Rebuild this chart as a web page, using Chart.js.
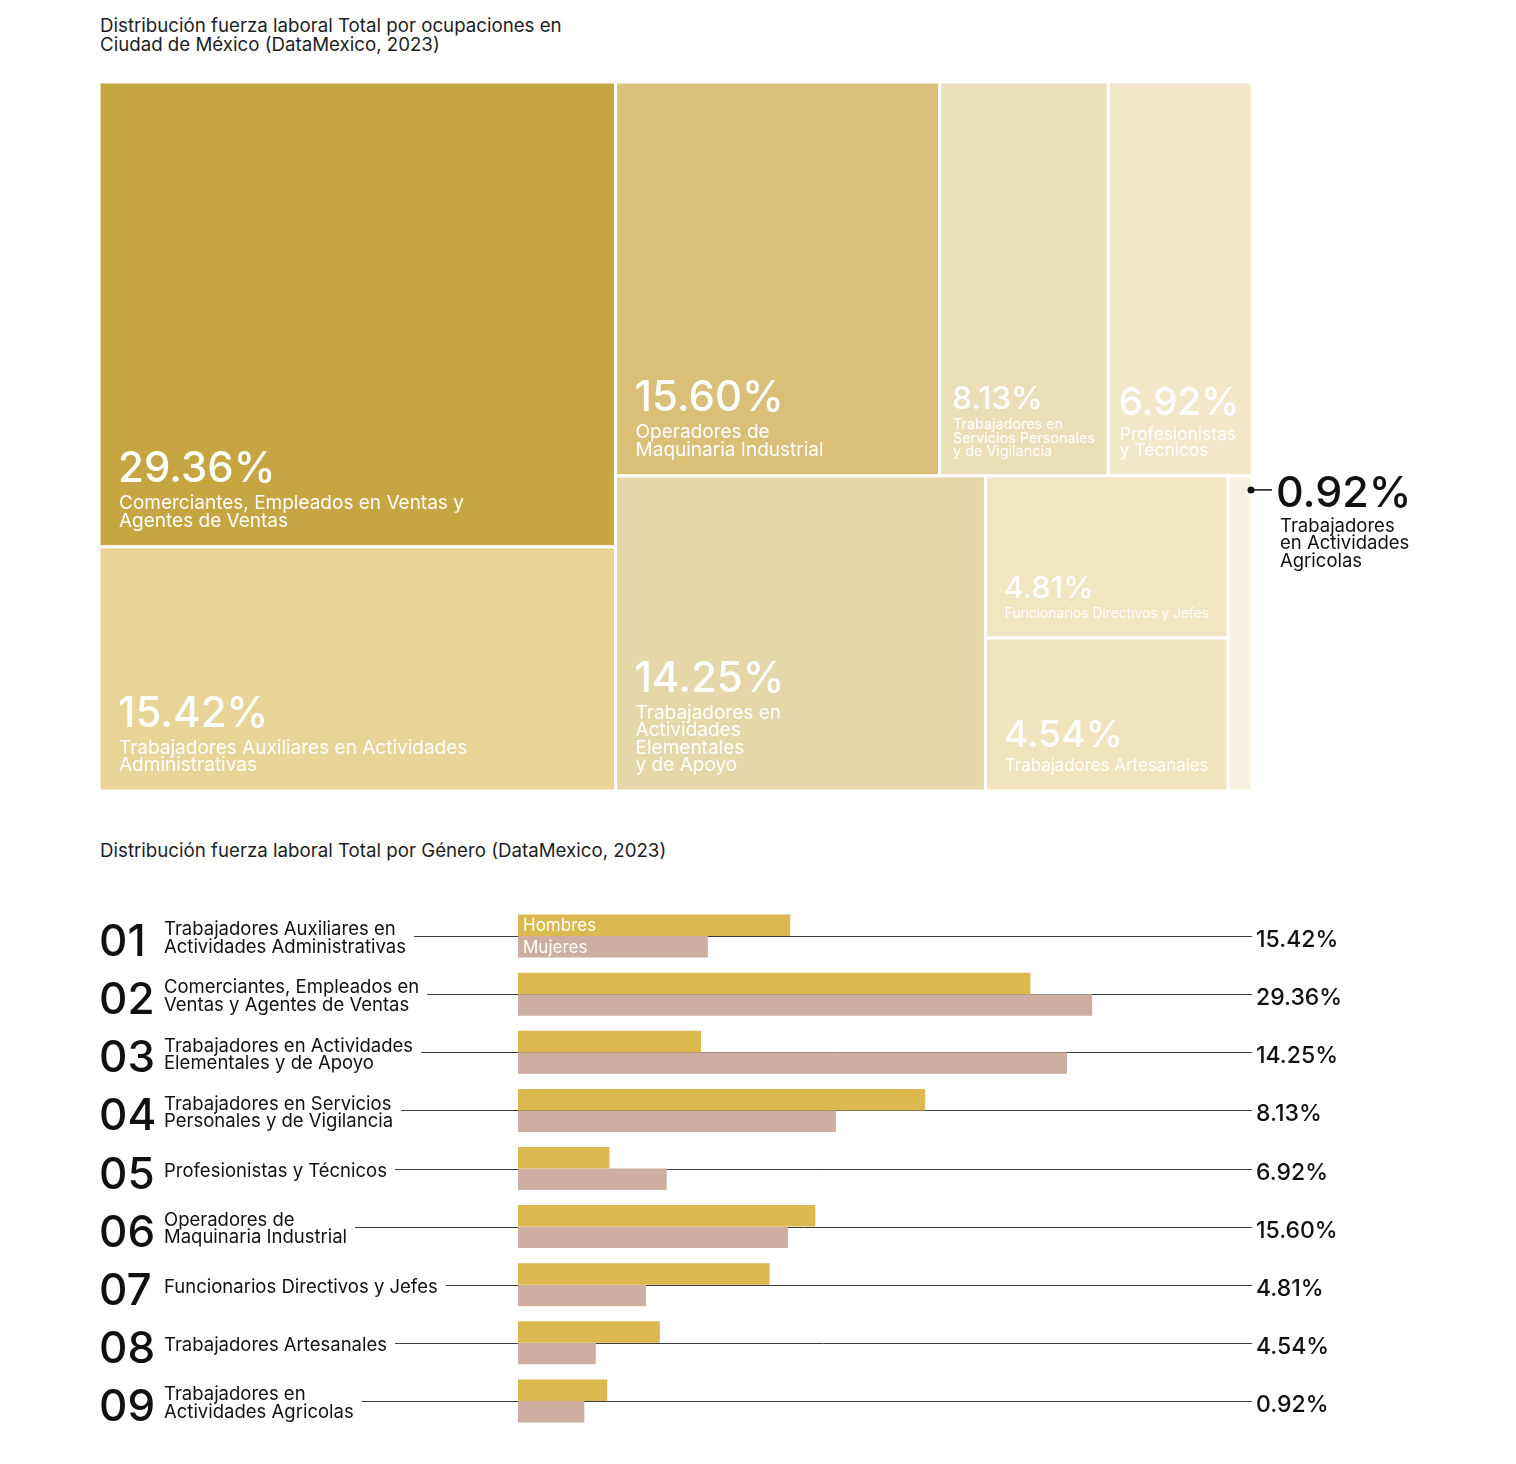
<!DOCTYPE html>
<html><head><meta charset="utf-8">
<script src="https://cdn.jsdelivr.net/npm/chart.js@4.4.0/dist/chart.umd.min.js"></script>
<style>
html,body{margin:0;padding:0;background:#fff;}
body{width:1516px;height:1464px;position:relative;overflow:hidden;font-family:Inter,'Noto Sans',sans-serif;}
.title{position:absolute;left:100px;font-size:18.7px;line-height:19px;color:#1e1e1e;white-space:nowrap;}
#treeWrap{position:absolute;left:0;top:0;width:1516px;height:800px;}
#barWrap{position:absolute;left:0;top:800px;width:1516px;height:664px;}
</style></head><body>
<div class="title" style="top:16px">Distribución fuerza laboral Total por ocupaciones en<br>Ciudad de México (DataMexico, 2023)</div>
<div class="title" style="top:841px">Distribución fuerza laboral Total por Género (DataMexico, 2023)</div>
<div id="treeWrap"><canvas id="tree"></canvas></div>
<div id="barWrap"><canvas id="bars"></canvas></div>
<script>
// ---------- Treemap data ----------
const occupations = [
  'Comerciantes, Empleados en Ventas y Agentes de Ventas',
  'Trabajadores Auxiliares en Actividades Administrativas',
  'Operadores de Maquinaria Industrial',
  'Trabajadores en Actividades Elementales y de Apoyo',
  'Trabajadores en Servicios Personales y de Vigilancia',
  'Profesionistas y Técnicos',
  'Funcionarios Directivos y Jefes',
  'Trabajadores Artesanales',
  'Trabajadores en Actividades Agricolas'
];
const shares = [29.36, 15.42, 15.60, 14.25, 8.13, 6.92, 4.81, 4.54, 0.92];
const cellLines = [
  ['Comerciantes, Empleados en Ventas y', 'Agentes de Ventas'],
  ['Trabajadores Auxiliares en Actividades', 'Administrativas'],
  ['Operadores de', 'Maquinaria Industrial'],
  ['Trabajadores en', 'Actividades', 'Elementales', 'y de Apoyo'],
  ['Trabajadores en', 'Servicios Personales', 'y de Vigilancia'],
  ['Profesionistas', 'y Técnicos'],
  ['Funcionarios Directivos y Jefes'],
  ['Trabajadores Artesanales'],
  ['Trabajadores', 'en Actividades', 'Agricolas']
];
// nesting of the treemap (indices into occupations)
const treeLayout = {dir:'h', children:[
  {dir:'v', children:[0, 1]},
  {dir:'v', children:[
    {dir:'h', children:[2, 4, 5]},
    {dir:'h', children:[3, {dir:'v', children:[6, 7]}, 8]}
  ]}
]};
const cellColors = ['#c6a643','#e9d498','#d9bf78','#e6d7ab','#ecdeb8','#f2e7c9','#f2e5c2','#f1e3bd','#f8f1df'];

// ---------- Gender bar data ----------
const rankLabels = ['01','02','03','04','05','06','07','08','09'];
const genderCategories = [
  ['Trabajadores Auxiliares en', 'Actividades Administrativas'],
  ['Comerciantes, Empleados en', 'Ventas y Agentes de Ventas'],
  ['Trabajadores en Actividades', 'Elementales y de Apoyo'],
  ['Trabajadores en Servicios', 'Personales y de Vigilancia'],
  ['Profesionistas y Técnicos'],
  ['Operadores de', 'Maquinaria Industrial'],
  ['Funcionarios Directivos y Jefes'],
  ['Trabajadores Artesanales'],
  ['Trabajadores en', 'Actividades Agricolas']
];
const totalShares = [15.42, 29.36, 14.25, 8.13, 6.92, 15.60, 4.81, 4.54, 0.92];
const hombres = [11.9, 22.4, 8.0, 17.8, 4.0, 13.0, 11.0, 6.2, 3.9];
const mujeres = [8.3, 25.1, 24.0, 13.9, 6.5, 11.8, 5.6, 3.4, 2.9];
const seriesNames = ['Hombres', 'Mujeres'];

const FONT = 'Inter, "Noto Sans", sans-serif';

// ---------- Treemap layout ----------
function nodeSum(n){ return typeof n === 'number' ? shares[n] : n.children.reduce((s,c)=>s+nodeSum(c),0); }
function layoutNode(n,x0,y0,x1,y1,out){
  if (typeof n === 'number'){ out.push({i:n,x0,y0,x1,y1}); return; }
  const total = nodeSum(n); let acc = 0;
  n.children.forEach(c=>{
    const v = nodeSum(c); const a = acc/total, b = (acc+v)/total; acc += v;
    if (n.dir === 'h') layoutNode(c, x0+(x1-x0)*a, y0, x0+(x1-x0)*b, y1, out);
    else layoutNode(c, x0, y0+(y1-y0)*a, x1, y0+(y1-y0)*b, out);
  });
}

const treemapPlugin = {
  id: 'treemapCells',
  afterDatasetsDraw(chart){
    const ctx = chart.ctx, xs = chart.scales.x, ys = chart.scales.y;
    const cells = []; layoutNode(treeLayout, 0, 0, 100, 100, cells);
    ctx.save();
    const px = cells.map(c=>({i:c.i,
      L: xs.getPixelForValue(c.x0), R: xs.getPixelForValue(c.x1),
      T: ys.getPixelForValue(c.y0), B: ys.getPixelForValue(c.y1)}));
    px.forEach(c=>{
      ctx.fillStyle = cellColors[c.i];
      ctx.fillRect(c.L, c.T, c.R-c.L, c.B-c.T);
      ctx.strokeStyle = '#ffffff'; ctx.lineWidth = 3;
      ctx.strokeRect(c.L, c.T, c.R-c.L, c.B-c.T);
    });
    ctx.textAlign = 'left'; ctx.textBaseline = 'alphabetic';
    px.forEach(c=>{
      const w = c.R-c.L, pct = shares[c.i].toFixed(2)+'%', lines = cellLines[c.i];
      if (w < 60){
        // external annotation
        const dx = c.R - 1, dy = c.T + 14;
        ctx.fillStyle = '#111'; ctx.strokeStyle = '#111'; ctx.lineWidth = 1.5;
        ctx.beginPath(); ctx.arc(dx, dy, 3.5, 0, Math.PI*2); ctx.fill();
        ctx.beginPath(); ctx.moveTo(dx, dy); ctx.lineTo(dx+21, dy); ctx.stroke();
        ctx.font = '500 43px ' + FONT;
        ctx.fillText(pct, dx+25, c.T+31);
        ctx.font = '400 18.5px ' + FONT;
        lines.forEach((t,k)=>ctx.fillText(t, dx+29, c.T+56+k*17.5));
        return;
      }
      const pad = Math.min(20, w*0.08);
      ctx.font = '500 42px ' + FONT; const pw = ctx.measureText(pct).width;
      ctx.font = '400 19px ' + FONT;
      const lw = Math.max(...lines.map(t=>ctx.measureText(t).width));
      const s = Math.min(1, (w-2*pad)/Math.max(pw, lw));
      const lh = 17.5*s, last = c.B - 20;
      ctx.fillStyle = '#ffffff';
      ctx.font = '400 ' + (19*s).toFixed(1) + 'px ' + FONT;
      const n = lines.length;
      lines.forEach((t,k)=>ctx.fillText(t, c.L+pad, last-(n-1-k)*lh));
      ctx.font = '500 ' + (42*s).toFixed(1) + 'px ' + FONT;
      ctx.fillText(pct, c.L+pad-1, last-(n-1)*lh-27*s);
    });
    ctx.restore();
  }
};

new Chart(document.getElementById('tree'), {
  type: 'scatter',
  data: { datasets: [{ label: 'Fuerza laboral por ocupación', data: [] }] },
  options: {
    responsive: true, maintainAspectRatio: false, animation: false,
    layout: { padding: { left: 99, right: 264, top: 82, bottom: 9 } },
    scales: {
      x: { type: 'linear', min: 0, max: 100, display: false },
      y: { type: 'linear', min: 0, max: 100, reverse: true, display: false }
    },
    plugins: { legend: { display: false }, tooltip: { enabled: false } }
  },
  plugins: [treemapPlugin]
});

// ---------- Gender bars ----------
const barDecor = {
  id: 'barDecor',
  beforeDatasetsDraw(chart){
    const ctx = chart.ctx, ys = chart.scales.y, area = chart.chartArea;
    ctx.save();
    ctx.textAlign = 'left'; ctx.textBaseline = 'alphabetic';
    genderCategories.forEach((lines,i)=>{
      const yc = ys.getPixelForValue(i);
      ctx.fillStyle = '#111';
      ctx.font = '500 44px ' + FONT;
      ctx.fillText(rankLabels[i], 99, yc+20);
      ctx.font = '400 18.5px ' + FONT;
      let maxW = 0;
      lines.forEach((t,k)=>{
        const b = yc + 8 + (k-(lines.length-1)/2)*17.5;
        ctx.fillText(t, 164, b);
        maxW = Math.max(maxW, ctx.measureText(t).width);
      });
      ctx.strokeStyle = '#3c3c3c'; ctx.lineWidth = 1;
      ctx.beginPath(); ctx.moveTo(164+maxW+8, Math.round(yc)+0.5); ctx.lineTo(area.right+2, Math.round(yc)+0.5); ctx.stroke();
      ctx.font = '500 23px ' + FONT;
      ctx.fillText(totalShares[i].toFixed(2)+'%', area.right+6, yc+11);
    });
    ctx.restore();
  },
  afterDatasetsDraw(chart){
    const ctx = chart.ctx;
    ctx.save();
    ctx.fillStyle = '#ffffff'; ctx.font = '400 17px ' + FONT;
    ctx.textAlign = 'left'; ctx.textBaseline = 'middle';
    chart.data.datasets.forEach((ds,d)=>{
      const el = chart.getDatasetMeta(d).data[0];
      const p = el.getProps(['y','base'], true);
      ctx.fillText(ds.label, p.base+5, p.y+1);
    });
    ctx.restore();
  }
};

new Chart(document.getElementById('bars'), {
  type: 'bar',
  data: {
    labels: genderCategories.map(l=>l.join(' ')),
    datasets: [
      { label: seriesNames[0], data: hombres, backgroundColor: '#dbb950' },
      { label: seriesNames[1], data: mujeres, backgroundColor: '#cdaea0' }
    ]
  },
  options: {
    indexAxis: 'y',
    responsive: true, maintainAspectRatio: false, animation: false,
    categoryPercentage: 0.74, barPercentage: 1.0,
    layout: { padding: { left: 518, right: 266, top: 107, bottom: 34 } },
    scales: {
      x: { type: 'linear', min: 0, max: 32, display: false },
      y: { display: false }
    },
    plugins: { legend: { display: false }, tooltip: { enabled: false } }
  },
  plugins: [barDecor]
});
</script>
</body></html>
